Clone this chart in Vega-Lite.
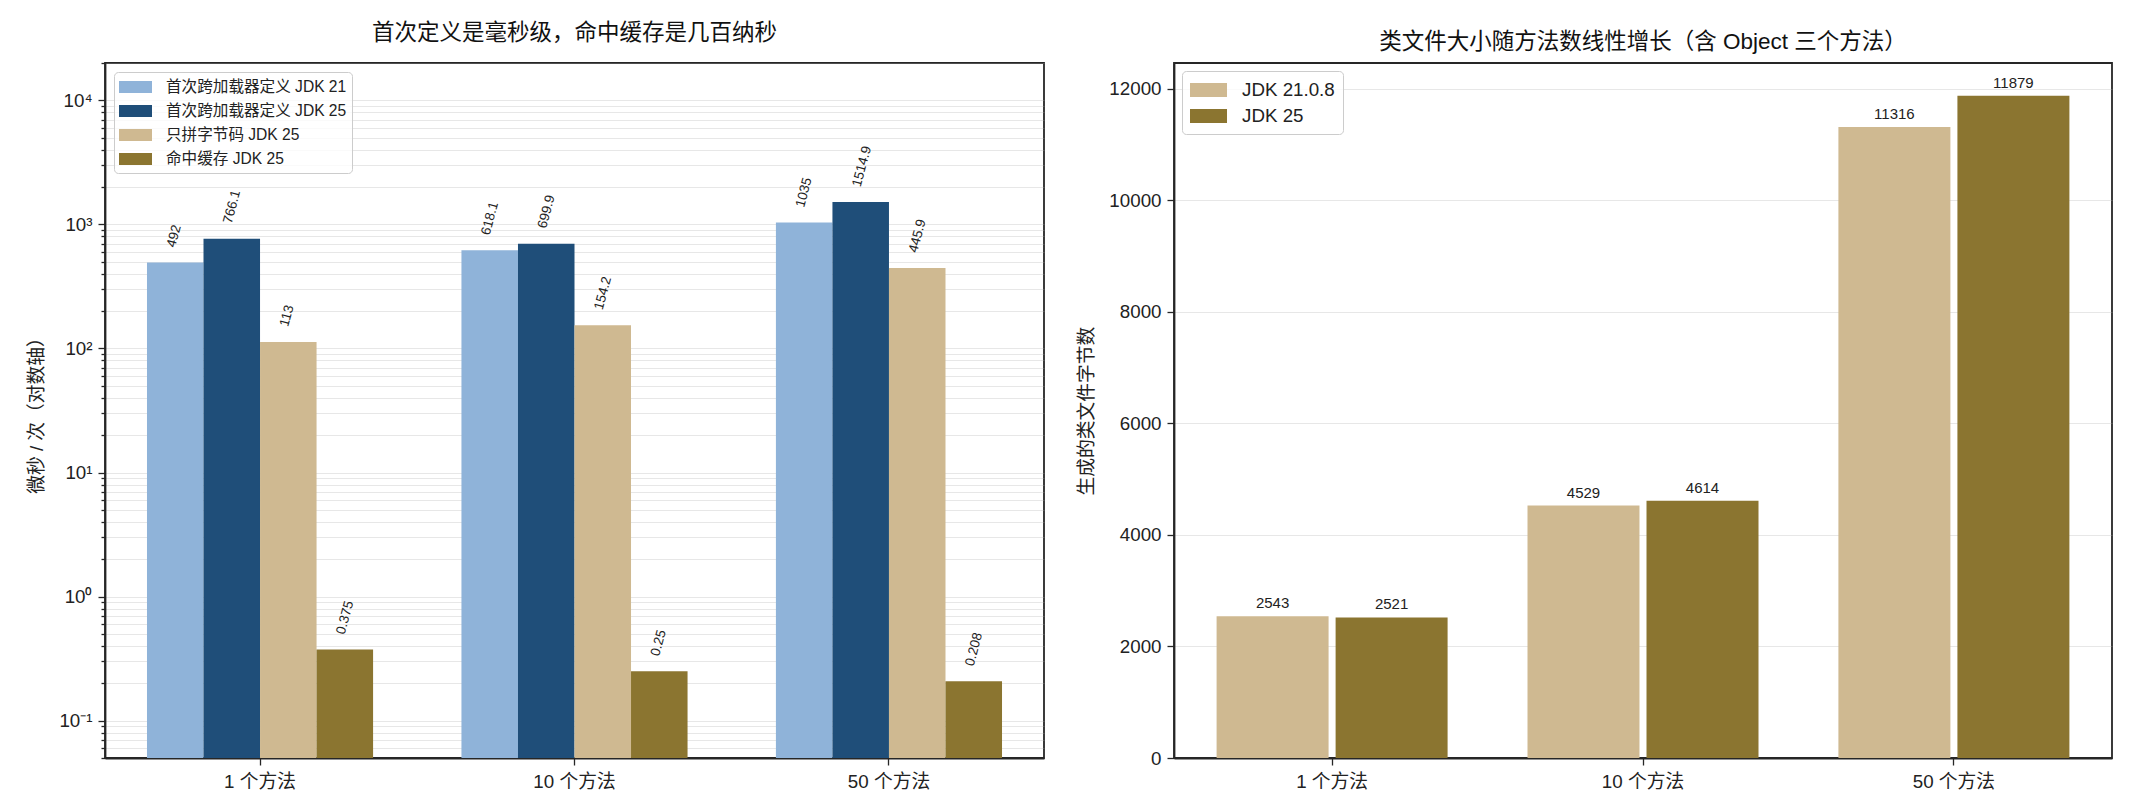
{
  "$schema": "https://vega.github.io/schema/vega-lite/v6.json",
  "background": "white",
  "padding": {"left": 27, "top": 20, "right": 5, "bottom": 5},
  "config": {
    "font": "Liberation Sans, Noto Sans CJK SC, sans-serif",
    "view": {"stroke": "#262626", "strokeWidth": 1.8},
    "axis": {
      "domainColor": "#262626", "domainWidth": 1.8,
      "tickColor": "#262626", "tickWidth": 1.3,
      "labelColor": "#222222", "labelFontSize": 18.75,
      "titleColor": "#222222", "titleFontSize": 18.75, "titleFontWeight": "normal",
      "zindex": 1
    },
    "title": {"fontSize": 22.5, "fontWeight": "normal", "color": "#111111", "offset": 10},
    "concat": {"spacing": 31}
  },
  "resolve": {
    "scale": {"x": "independent", "xOffset": "independent", "y": "independent", "color": "independent"},
    "axis": {"x": "independent", "y": "independent"},
    "legend": {"color": "independent"}
  },
  "hconcat": [
    {
      "width": 939,
      "height": 695,
      "title": "首次定义是毫秒级，命中缓存是几百纳秒",
      "data": {"values": [
        {"case": "1 个方法", "series": "首次跨加载器定义 JDK 21", "us": 492},
        {"case": "1 个方法", "series": "首次跨加载器定义 JDK 25", "us": 766.1},
        {"case": "1 个方法", "series": "只拼字节码 JDK 25", "us": 113},
        {"case": "1 个方法", "series": "命中缓存 JDK 25", "us": 0.375},
        {"case": "10 个方法", "series": "首次跨加载器定义 JDK 21", "us": 618.1},
        {"case": "10 个方法", "series": "首次跨加载器定义 JDK 25", "us": 699.9},
        {"case": "10 个方法", "series": "只拼字节码 JDK 25", "us": 154.2},
        {"case": "10 个方法", "series": "命中缓存 JDK 25", "us": 0.25},
        {"case": "50 个方法", "series": "首次跨加载器定义 JDK 21", "us": 1035},
        {"case": "50 个方法", "series": "首次跨加载器定义 JDK 25", "us": 1514.9},
        {"case": "50 个方法", "series": "只拼字节码 JDK 25", "us": 445.9},
        {"case": "50 个方法", "series": "命中缓存 JDK 25", "us": 0.208}
      ]},
      "encoding": {
        "x": {
          "field": "case", "type": "nominal",
          "sort": ["1 个方法", "10 个方法", "50 个方法"],
          "scale": {"paddingInner": 0.281, "paddingOuter": 0.1335},
          "axis": {"title": null, "labelAngle": 0, "tickSize": 7, "labelPadding": 7, "grid": false}
        },
        "xOffset": {
          "field": "series", "type": "nominal",
          "sort": ["首次跨加载器定义 JDK 21", "首次跨加载器定义 JDK 25", "只拼字节码 JDK 25", "命中缓存 JDK 25"],
          "scale": {"paddingInner": 0, "paddingOuter": 0}
        },
        "y": {
          "field": "us", "type": "quantitative",
          "scale": {"type": "log", "domain": [0.05, 20000], "nice": false},
          "axis": {
            "title": "微秒 / 次（对数轴）",
            "values": [0.05, 0.06, 0.07, 0.08, 0.09, 0.1, 0.2, 0.3, 0.4, 0.5, 0.6, 0.7, 0.8, 0.9, 1, 2, 3, 4, 5, 6, 7, 8, 9, 10, 20, 30, 40, 50, 60, 70, 80, 90, 100, 200, 300, 400, 500, 600, 700, 800, 900, 1000, 2000, 3000, 4000, 5000, 6000, 7000, 8000, 9000, 10000, 20000],
            "labelExpr": "datum.value == 0.1 ? '10⁻¹' : datum.value == 1 ? '10⁰' : datum.value == 10 ? '10¹' : datum.value == 100 ? '10²' : datum.value == 1000 ? '10³' : datum.value == 10000 ? '10⁴' : ''",
            "labelOverlap": false,
            "grid": true, "gridColor": "#b0b0b0", "gridOpacity": 0.3, "gridWidth": 1.2,
            "tickSize": {"condition": {"test": "indexof([0.1, 1, 10, 100, 1000, 10000], datum.value) >= 0", "value": 7}, "value": 4},
            "labelPadding": 6,
            "titlePadding": 12
          }
        }
      },
      "layer": [
        {
          "mark": {"type": "bar"},
          "encoding": {
            "y2": {"datum": 0.05},
            "color": {
              "field": "series", "type": "nominal",
              "scale": {
                "domain": ["首次跨加载器定义 JDK 21", "首次跨加载器定义 JDK 25", "只拼字节码 JDK 25", "命中缓存 JDK 25"],
                "range": ["#8fb3d9", "#1f4e79", "#cfb991", "#8b7530"]
              },
              "legend": {
                "title": null, "orient": "top-left", "offset": 9,
                "symbolType": "M-1,-0.6H2.3V0.6H-1Z", "symbolSize": 400, "symbolStrokeWidth": 0,
                "labelFontSize": 15.6, "labelColor": "#222222", "labelOffset": 27, "labelLimit": 400,
                "rowPadding": 5, "padding": 5,
                "fillColor": "rgba(255,255,255,0.8)", "strokeColor": "#cccccc", "cornerRadius": 4
              }
            }
          }
        },
        {
          "mark": {"type": "text", "angle": 285, "align": "left", "baseline": "middle", "dx": 14, "dy": -8, "fontSize": 13.5, "color": "#222222"},
          "encoding": {"text": {"field": "us", "type": "nominal"}}
        }
      ]
    },
    {
      "width": 938,
      "height": 695,
      "title": "类文件大小随方法数线性增长（含 Object 三个方法）",
      "data": {"values": [
        {"case": "1 个方法", "jdk": "JDK 21.0.8", "bytes": 2543},
        {"case": "1 个方法", "jdk": "JDK 25", "bytes": 2521},
        {"case": "10 个方法", "jdk": "JDK 21.0.8", "bytes": 4529},
        {"case": "10 个方法", "jdk": "JDK 25", "bytes": 4614},
        {"case": "50 个方法", "jdk": "JDK 21.0.8", "bytes": 11316},
        {"case": "50 个方法", "jdk": "JDK 25", "bytes": 11879}
      ]},
      "encoding": {
        "x": {
          "field": "case", "type": "nominal",
          "sort": ["1 个方法", "10 个方法", "50 个方法"],
          "scale": {"paddingInner": 0.257, "paddingOuter": 0.137},
          "axis": {"title": null, "labelAngle": 0, "tickSize": 7, "labelPadding": 7, "grid": false}
        },
        "xOffset": {
          "field": "jdk", "type": "nominal",
          "sort": ["JDK 21.0.8", "JDK 25"],
          "scale": {"paddingInner": 0.059, "paddingOuter": 0}
        },
        "y": {
          "field": "bytes", "type": "quantitative",
          "scale": {"domain": [0, 12466], "nice": false},
          "axis": {
            "title": "生成的类文件字节数",
            "values": [0, 2000, 4000, 6000, 8000, 10000, 12000],
            "format": "d",
            "grid": true, "gridColor": "#b0b0b0", "gridOpacity": 0.3, "gridWidth": 1.2,
            "tickSize": 7, "labelPadding": 6, "titlePadding": 12
          }
        }
      },
      "layer": [
        {
          "mark": {"type": "bar"},
          "encoding": {
            "color": {
              "field": "jdk", "type": "nominal",
              "scale": {"domain": ["JDK 21.0.8", "JDK 25"], "range": ["#cfb991", "#8b7530"]},
              "legend": {
                "title": null, "orient": "top-left", "offset": 8,
                "symbolType": "M-1,-0.636H2.364V0.636H-1Z", "symbolSize": 484, "symbolStrokeWidth": 0,
                "labelFontSize": 18.75, "labelColor": "#222222", "labelOffset": 30, "labelLimit": 400,
                "rowPadding": 5, "padding": 8,
                "fillColor": "rgba(255,255,255,0.8)", "strokeColor": "#cccccc", "cornerRadius": 4
              }
            }
          }
        },
        {
          "mark": {"type": "text", "baseline": "bottom", "dy": -5, "fontSize": 15, "color": "#222222"},
          "encoding": {"text": {"field": "bytes", "type": "nominal"}}
        }
      ]
    }
  ]
}
